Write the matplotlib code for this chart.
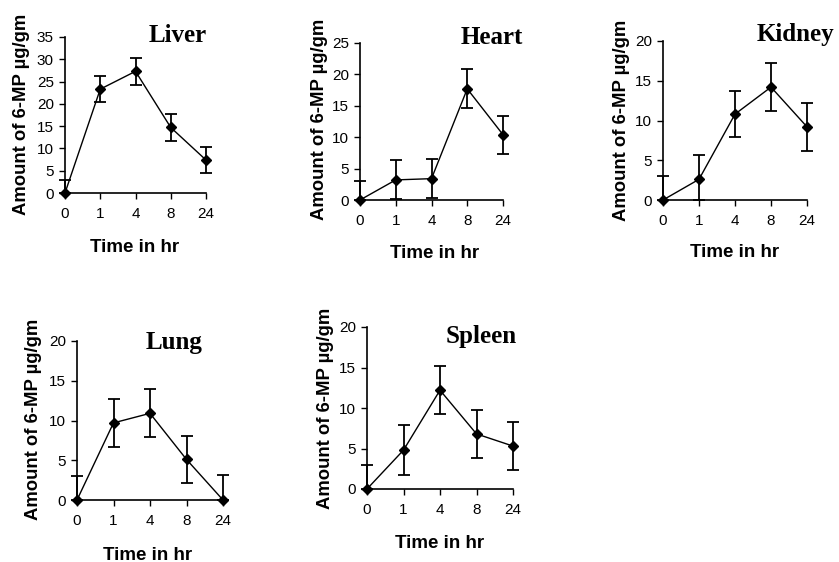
import matplotlib
matplotlib.use('Agg')
import matplotlib.pyplot as plt
import numpy as np

plt.rcParams['font.family'] = ['Liberation Sans', 'DejaVu Sans']

# ── 데이터 ─────────────────────────────────────────────────────────────
TIME_LABELS = ['0', '1', '4', '8', '24']

liver_mean = [0, 23.3, 27.3, 14.7, 7.4]
liver_err = [3.0, 2.9, 3.0, 3.1, 3.0]

heart_mean = [0, 3.2, 3.4, 17.7, 10.4]
heart_err = [3.0, 3.1, 3.1, 3.1, 3.0]

kidney_mean = [0, 2.6, 10.8, 14.2, 9.2]
kidney_err = [3.0, 3.1, 2.9, 3.0, 3.0]

lung_mean = [0, 9.7, 10.9, 5.1, 0]
lung_err = [3.0, 3.0, 3.0, 3.0, 3.1]

spleen_mean = [0, 4.8, 12.2, 6.8, 5.3]
spleen_err = [3.0, 3.1, 3.0, 3.0, 3.0]

# (name, mean, err, ymax, axes rect in px [left, right, bottom, top],
#  title pos px, ylabel pos px, xlabel pos px)
PANELS = [
    ('Liver', liver_mean, liver_err, 35, (65, 206, 193, 37),
     (149, 35), (22, 114), (135, 248)),
    ('Heart', heart_mean, heart_err, 25, (360, 503, 200, 43),
     (461, 37), (319, 119), (435, 254)),
    ('Kidney', kidney_mean, kidney_err, 20, (663, 807, 200, 41),
     (757, 35), (621, 120), (735, 253)),
    ('Lung', lung_mean, lung_err, 20, (77, 223, 500, 341),
     (146, 342), (34, 419), (148, 555)),
    ('Spleen', spleen_mean, spleen_err, 20, (367, 513, 489, 327),
     (446, 337), (325, 408), (440, 543)),
]

W, H = 839, 562
fig = plt.figure(figsize=(W / 100.0, H / 100.0), dpi=100)
fig.patch.set_facecolor('white')


def fx(px):
    return px / float(W)


def fy(py):
    return 1 - py / float(H)


for name, mean, err, ymax, rect, tpos, ylpos, xlpos in PANELS:
    l, r, b, t = rect
    ax = fig.add_axes([fx(l), fy(b), fx(r - l), (b - t) / float(H)])
    x = np.arange(len(TIME_LABELS))
    mean = np.array(mean, dtype=float)
    err = np.array(err, dtype=float)
    lower = np.minimum(err, mean)
    ax.errorbar(x, mean, yerr=[lower, err], color='black', marker='D',
                markersize=5.5, linewidth=1.0, elinewidth=1.3, capsize=4,
                capthick=1.3, clip_on=False, zorder=3)
    ax.set_xlim(0, len(TIME_LABELS) - 1)
    ax.set_ylim(0, ymax)
    ax.set_xticks(x)
    ax.set_xticklabels(TIME_LABELS)
    ax.set_yticks(np.arange(0, ymax + 1, 5))
    ax.tick_params(direction='out', length=4, width=1, labelsize=11)
    ax.tick_params(axis='x', pad=6)
    ax.tick_params(axis='y', pad=4)
    for s in ['top', 'right']:
        ax.spines[s].set_visible(False)
    for s in ['left', 'bottom']:
        ax.spines[s].set_linewidth(1.2)
    ax.patch.set_alpha(0)

    fig.text(fx(tpos[0]), fy(tpos[1]), name, family='Liberation Serif',
             fontweight='bold', fontsize=18, ha='left', va='center')
    fig.text(fx(ylpos[0]), fy(ylpos[1]), u'Amount of 6-MP \u00b5g/gm',
             fontweight='bold', fontsize=13.3, rotation=90,
             ha='center', va='center')
    fig.text(fx(xlpos[0]), fy(xlpos[1]), 'Time in hr', fontweight='bold',
             fontsize=13.5, ha='center', va='center')

plt.savefig('out.png', dpi=100)
plt.close()
